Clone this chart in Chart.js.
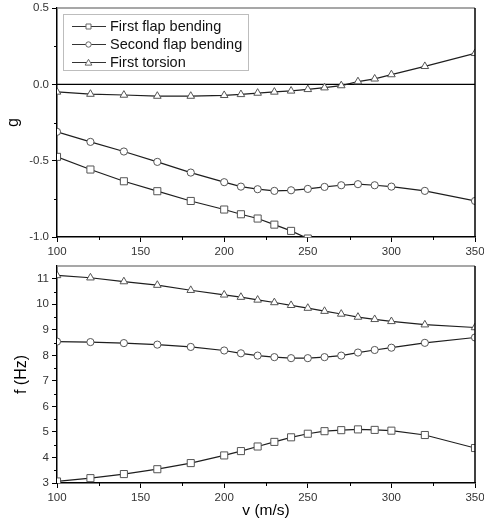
<!DOCTYPE html>
<html><head><meta charset="utf-8">
<script src="https://cdn.jsdelivr.net/npm/chart.js@4.4.0/dist/chart.umd.min.js"></script>
<style>
html,body{margin:0;padding:0;background:#fff;}
#w{position:relative;width:484px;height:524px;overflow:hidden;}
#c1{position:absolute;left:0;top:0;}
#c2{position:absolute;left:0;top:260px;}
</style></head><body>
<div id="w"><canvas id="c1" width="484" height="260"></canvas><canvas id="c2" width="484" height="264"></canvas></div>
<script>
// ---- data ----
const speeds = [100,120,140,160,180,200,210,220,230,240,250,260,270,280,290,300,320,350];
const seriesNames = ['First flap bending','Second flap bending','First torsion'];
// damping g
const gFlap1   = [-0.475,-0.558,-0.635,-0.700,-0.764,-0.820,-0.851,-0.879,-0.919,-0.960,-1.010];
const gFlap2   = [-0.311,-0.377,-0.440,-0.508,-0.578,-0.641,-0.670,-0.687,-0.698,-0.694,-0.685,-0.672,-0.661,-0.654,-0.661,-0.670,-0.698,-0.764];
const gTorsion = [-0.050,-0.064,-0.070,-0.077,-0.077,-0.072,-0.066,-0.057,-0.050,-0.043,-0.033,-0.022,-0.008,0.018,0.036,0.064,0.118,0.203];
// frequency f (Hz)
const fFlap1   = [3.06,3.19,3.35,3.54,3.78,4.08,4.25,4.43,4.61,4.79,4.93,5.03,5.07,5.10,5.08,5.05,4.88,4.37];
const fFlap2   = [8.54,8.52,8.48,8.42,8.33,8.19,8.08,7.99,7.93,7.89,7.89,7.93,7.99,8.11,8.21,8.30,8.49,8.70];
const fTorsion = [11.13,11.04,10.89,10.75,10.55,10.37,10.28,10.17,10.07,9.96,9.85,9.73,9.62,9.50,9.41,9.33,9.20,9.09];
// ticks
const vTicks = [100,150,200,250,300,350];
const gTicks = [-1.0,-0.5,0.0,0.5];
const fTicks = [3,4,5,6,7,8,9,10,11];

const FONT = "'Liberation Sans', Arial, sans-serif";
const radii = {rect:5, circle:3.6, triangle:4.4};

function pts(vals){ return vals.map((y,i)=>({x:speeds[i], y:y})); }
function ds(label, vals, style){
  return {label, data: pts(vals), borderColor:'#1e1e1e', borderWidth:1.2,
    pointStyle: style, pointRadius: radii[style], pointHoverRadius: radii[style],
    pointBackgroundColor:'#fff', pointBorderColor:'#555', pointBorderWidth:1,
    tension:0, fill:false};
}

const framePlugin = {
  id:'frame',
  beforeDatasetsDraw(chart, args, opts){
    const {ctx, chartArea:a} = chart;
    ctx.save();
    if (opts.zero){
      const y = chart.scales.y.getPixelForValue(0);
      ctx.strokeStyle='#000'; ctx.lineWidth=1.2;
      ctx.beginPath(); ctx.moveTo(a.left,y); ctx.lineTo(a.right,y); ctx.stroke();
    }
    ctx.restore();
  },
  afterDraw(chart, args, opts){
    const {ctx, chartArea:a} = chart;
    ctx.save();
    ctx.strokeStyle='#8a8a8a'; ctx.lineWidth=1.6;
    ctx.beginPath(); ctx.moveTo(a.left,a.top); ctx.lineTo(a.right,a.top); ctx.stroke();
    ctx.strokeStyle='#000'; ctx.lineWidth=1.5;
    ctx.beginPath(); ctx.moveTo(a.right,a.top); ctx.lineTo(a.right,a.bottom); ctx.stroke();
    // minor ticks
    ctx.lineWidth=1; ctx.strokeStyle='#000';
    const xs = chart.scales.x, ys = chart.scales.y;
    for (let v = xs.min + opts.xMinor; v < xs.max; v += opts.xMinor*2){
      const px = Math.round(xs.getPixelForValue(v))+0.5;
      ctx.beginPath(); ctx.moveTo(px,a.bottom); ctx.lineTo(px,a.bottom+3); ctx.stroke();
    }
    for (let v = opts.yMinorStart; v < ys.max; v += opts.yMinor*2){
      const py = Math.round(ys.getPixelForValue(v))+0.5;
      ctx.beginPath(); ctx.moveTo(a.left-3,py); ctx.lineTo(a.left,py); ctx.stroke();
    }
    // legend
    if (opts.legend){
      const L = opts.legend;
      ctx.strokeStyle='#bdbdbd'; ctx.lineWidth=1;
      ctx.strokeRect(L.x+0.5, L.y+0.5, L.w, L.h);
      chart.data.datasets.forEach((d,i)=>{
        const y = L.y + 12.5 + i*18;
        ctx.strokeStyle='#333'; ctx.lineWidth=1;
        ctx.beginPath(); ctx.moveTo(L.x+9,y); ctx.lineTo(L.x+43,y); ctx.stroke();
        const cx = L.x+25.5;
        ctx.fillStyle='#fff'; ctx.strokeStyle='#666';
        ctx.beginPath();
        if (d.pointStyle==='rect'){ ctx.rect(cx-2.5,y-2.5,5,5); }
        else if (d.pointStyle==='circle'){ ctx.arc(cx,y,2.7,0,Math.PI*2); }
        else { ctx.moveTo(cx,y-3.2); ctx.lineTo(cx+3.4,y+2.6); ctx.lineTo(cx-3.4,y+2.6); ctx.closePath(); }
        ctx.fill(); ctx.stroke();
        ctx.fillStyle='#111'; ctx.font='14.5px '+FONT; ctx.textBaseline='middle'; ctx.textAlign='left';
        ctx.fillText(d.label, L.x+47, y+0.5);
      });
    }
    ctx.restore();
  }
};

function xScale(height, titleOpts){
  return {type:'linear', min:100, max:350,
    afterBuildTicks: s => { s.ticks = vTicks.map(v=>({value:v})); },
    afterFit: s => { s.height = height; s.paddingLeft = 0; s.paddingRight = 0; },
    grid:{drawOnChartArea:false, tickLength:5, tickColor:'#000', tickWidth:1},
    border:{display:true, color:'#000', width:1.5},
    ticks:{color:'#333', font:{family:FONT, size:11.5}, padding:3, maxRotation:0, callback:v=>String(v)},
    title: titleOpts || {display:false}
  };
}
function yScale(min,max,tickVals,fmt,title,pad){
  return {type:'linear', min, max,
    afterBuildTicks: s => { s.ticks = tickVals.map(v=>({value:v})); },
    afterFit: s => { s.width = 57; s.paddingTop = 0; s.paddingBottom = 0; },
    grid:{drawOnChartArea:false, tickLength:5, tickColor:'#000', tickWidth:1},
    border:{display:true, color:'#000', width:1.5},
    ticks:{color:'#333', font:{family:FONT, size:11.5}, padding:3, callback:fmt},
    title:{display:true, text:title, color:'#000', font:{family:FONT, size:16}, padding:{top:pad,bottom:0}}
  };
}

const common = {responsive:false, animation:false, events:[]};

new Chart(document.getElementById('c1'), {
  type:'line',
  data:{datasets:[ ds(seriesNames[0], gFlap1, 'rect'), ds(seriesNames[1], gFlap2, 'circle'), ds(seriesNames[2], gTorsion, 'triangle') ]},
  options:Object.assign({}, common, {
    layout:{padding:{left:0,right:9,top:8,bottom:0}},
    scales:{
      x: xScale(23),
      y: yScale(-1.0, 0.5, gTicks, v=>v.toFixed(1), 'g', 4)
    },
    plugins:{legend:{display:false}, tooltip:{enabled:false},
      frame:{zero:true, xMinor:25, yMinor:0.25, yMinorStart:-0.75,
        legend:{x:63, y:14, w:185, h:56}}}
  }),
  plugins:[framePlugin]
});

new Chart(document.getElementById('c2'), {
  type:'line',
  data:{datasets:[ ds(seriesNames[0], fFlap1, 'rect'), ds(seriesNames[1], fFlap2, 'circle'), ds(seriesNames[2], fTorsion, 'triangle') ]},
  options:Object.assign({}, common, {
    layout:{padding:{left:0,right:9,top:3,bottom:0}},
    scales:{
      x: xScale(41, {display:true, text:'v (m/s)', color:'#000', font:{family:FONT, size:15.5}, padding:{top:0,bottom:4}}),
      y: yScale(3, 11.5, fTicks, v=>String(v), 'f (Hz)', 12)
    },
    plugins:{legend:{display:false}, tooltip:{enabled:false},
      frame:{zero:false, xMinor:25, yMinor:0.5, yMinorStart:3.5}}
  }),
  plugins:[framePlugin]
});
</script>
</body></html>
